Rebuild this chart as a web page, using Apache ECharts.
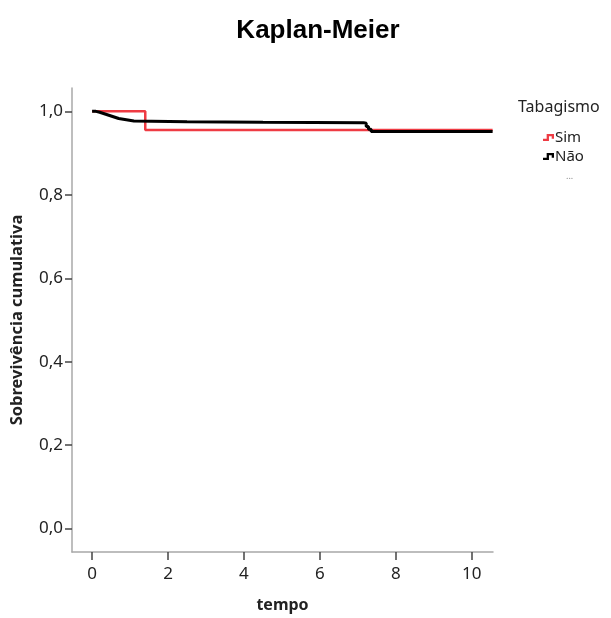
<!DOCTYPE html>
<html>
<head>
<meta charset="utf-8">
<script src="https://cdn.jsdelivr.net/npm/echarts@6/dist/echarts.min.js"></script>
<style>
  html, body { margin: 0; padding: 0; background: #fff; }
  #chart { width: 611px; height: 618px; }
</style>
</head>
<body>
<div id="chart"></div>
<script>
// tempo / sobrevivencia
var simTempo = [0, 1.4, 10.55];
var simSobrev = [1.0, 0.9555, 0.9555];

var naoTempo = [0, 0.1, 0.2, 0.3, 0.4, 0.5, 0.6, 0.7, 0.9, 1.1, 2.5, 4.5, 7.15, 7.22, 7.28, 7.35, 10.55];
var naoSobrev = [1.0, 0.998, 0.995, 0.992, 0.989, 0.986, 0.983, 0.98, 0.977, 0.975, 0.974, 0.973, 0.9715, 0.964, 0.957, 0.9515, 0.9515];

var xTicks = [0, 2, 4, 6, 8, 10];
var yTicks = [0, 0.2, 0.4, 0.6, 0.8, 1.0];

function pares(t, s) {
	return t.map(function(v, i) { return [v, s[i]]; });
}

var fonte = '"Noto Sans", "DejaVu Sans", sans-serif';
var iconeDegrau = 'path://M0,5 L4,5 L4,0 L12,0 L12,5 L9.5,5 L9.5,2.5 L6.5,2.5 L6.5,7.5 L0,7.5 Z';
var myChart = echarts.init(document.getElementById('chart'));
var option = {
	animation: false,
	title: {
		text: 'Kaplan-Meier',
		left: 313,
		textAlign: 'center',
		top: 13,
		textStyle: { fontFamily: 'Liberation Sans, Arial, sans-serif', fontWeight: 'bold', fontSize: 26, color: '#000' }
	},
	legend: {
		orient: 'vertical',
		left: 543,
		top: 130,
		padding: 0,
		itemGap: 4,
		itemWidth: 11,
		itemHeight: 8,
		textStyle: { fontFamily: fonte, fontSize: 15, color: '#222', padding: [0, 0, 0, -4] },
		data: [
			{ name: 'Sim', icon: iconeDegrau },
			{ name: 'Não', icon: iconeDegrau }
		]
	},
	graphic: [
		{ type: 'text', left: 518, top: 99, style: { text: 'Tabagismo', font: '16px ' + fonte, fill: '#222' } },
		{ type: 'text', left: 566, top: 172, style: { text: '...', font: '9px ' + fonte, fill: '#888' } }
	],
	grid: { left: 72, top: 88, width: 421, height: 469, containLabel: false },
	xAxis: {
		type: 'value',
		min: -0.53,
		max: 10.56,
		name: 'tempo',
		nameLocation: 'middle',
		nameGap: 45,
		nameTextStyle: { fontFamily: fonte, fontWeight: 'bold', fontSize: 16, color: '#222' },
		axisLine: { onZero: false, lineStyle: { color: '#a8a8a8', width: 1.5 } },
		axisTick: { show: true, length: 8, lineStyle: { color: '#444', width: 1.5 }, customValues: xTicks },
		axisLabel: { fontFamily: fonte, fontSize: 17, color: '#222', margin: 14, customValues: xTicks, showMinLabel: true, showMaxLabel: true },
		splitLine: { show: false }
	},
	yAxis: {
		type: 'value',
		min: -0.056,
		max: 1.056,
		name: 'Sobrevivência cumulativa',
		nameLocation: 'middle',
		nameGap: 46,
		nameTextStyle: { fontFamily: fonte, fontWeight: 'bold', fontSize: 16.5, color: '#222' },
		axisLine: { show: true, onZero: false, lineStyle: { color: '#a8a8a8', width: 1.5 } },
		axisTick: { show: true, length: 7, lineStyle: { color: '#444', width: 1.5 }, customValues: yTicks },
		axisLabel: {
			fontFamily: fonte, fontSize: 17, color: '#222', margin: 9, customValues: yTicks,
			formatter: function(v) { return v.toFixed(1).replace('.', ','); }
		},
		splitLine: { show: false }
	},
	series: [
		{
			name: 'Sim',
			type: 'line',
			step: 'end',
			symbol: 'none',
			color: '#ee3b43',
			lineStyle: { width: 2.5, color: '#ee3b43' },
			data: pares(simTempo, simSobrev)
		},
		{
			name: 'Não',
			type: 'line',
			step: 'end',
			symbol: 'none',
			color: '#000',
			lineStyle: { width: 3, color: '#000' },
			data: pares(naoTempo, naoSobrev)
		}
	]
};
myChart.setOption(option);
</script>
</body>
</html>
